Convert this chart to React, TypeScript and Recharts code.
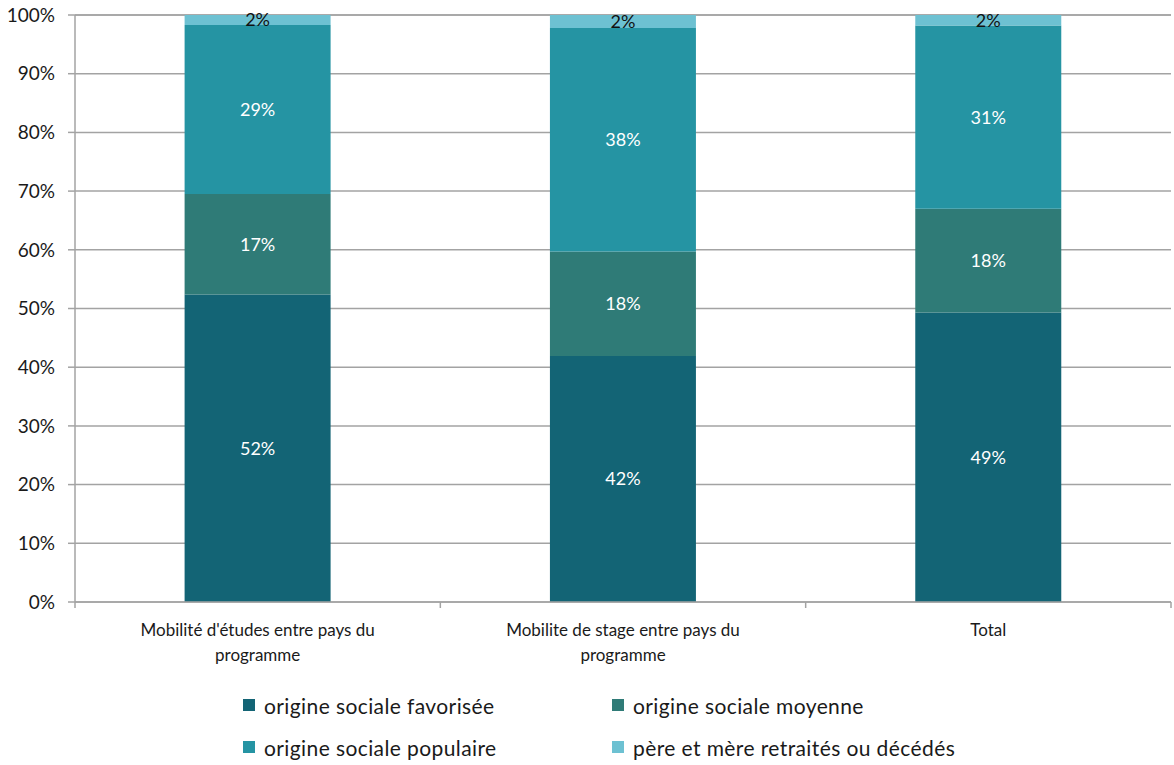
import React from 'react'
import { BarChart, Bar, XAxis, YAxis, CartesianGrid, LabelList } from 'recharts'

const categories = [
  "Mobilité d'études entre pays du\nprogramme",
  'Mobilite de stage entre pays du\nprogramme',
  'Total',
]
const favorisee = [52.4, 41.9, 49.3]
const moyenne = [17.1, 17.8, 17.7]
const populaire = [28.8, 38.1, 31.2]
const retraites = [1.7, 2.2, 1.8]
const yTicks = [0, 10, 20, 30, 40, 50, 60, 70, 80, 90, 100]

const series = [
  { key: 'favorisee', name: 'origine sociale favorisée', color: '#136475', label: '#ffffff' },
  { key: 'moyenne', name: 'origine sociale moyenne', color: '#2f7b77', label: '#ffffff' },
  { key: 'populaire', name: 'origine sociale populaire', color: '#2594a3', label: '#ffffff' },
  { key: 'retraites', name: 'père et mère retraités ou décédés', color: '#6dc1d2', label: '#111111' },
]

const data = categories.map((name, i) => ({
  name,
  favorisee: favorisee[i],
  moyenne: moyenne[i],
  populaire: populaire[i],
  retraites: retraites[i],
}))

const font = 'Lato, "Noto Sans", sans-serif'
const grid = '#a3a3a3'

// category label + Excel-style tick marks on the band edges
function CategoryTick({ x, y, payload, index, visibleTicksCount }: any) {
  const lines = String(payload.value).split('\n')
  const half = payload.offset || 0
  const last = index === visibleTicksCount - 1
  return (
    <g>
      <line x1={x - half} x2={x - half} y1={y} y2={y + 6} stroke={grid} strokeWidth={1.5} />
      {last && <line x1={x + half} x2={x + half} y1={y} y2={y + 6} stroke={grid} strokeWidth={1.5} />}
      <text x={x} y={y + 34} textAnchor="middle" fontFamily={font} fontSize={17} fill="#1a1a1a">
        {lines.map((l, i) => (
          <tspan key={i} x={x} dy={i === 0 ? 0 : 25}>
            {l}
          </tspan>
        ))}
      </text>
    </g>
  )
}

export default function App() {
  return (
    <div style={{ position: 'absolute', left: 0, top: 0, width: 1174, height: 765, background: '#fff' }}>
      <BarChart
        width={1174}
        height={680}
        data={data}
        margin={{ top: 15, right: 3, left: 0, bottom: 0 }}
        barCategoryGap="30%"
      >
        <CartesianGrid vertical={false} stroke={grid} strokeWidth={1.5} />
        <XAxis
          dataKey="name"
          tick={<CategoryTick />}
          tickLine={false}
          tickSize={0}
          tickMargin={0}
          axisLine={{ stroke: grid, strokeWidth: 1.5 }}
          height={78}
          interval={0}
        />
        <YAxis
          domain={[0, 100]}
          ticks={yTicks}
          tickFormatter={(v: number) => `${v}%`}
          width={75}
          tickSize={7}
          tickMargin={13}
          axisLine={{ stroke: grid, strokeWidth: 1.5 }}
          tickLine={{ stroke: grid, strokeWidth: 1.5 }}
          tick={{ fontFamily: font, fontSize: 19, fill: '#1a1a1a' }}
        />
        {series.map((s) => (
          <Bar
            key={s.key}
            dataKey={s.key}
            name={s.name}
            stackId="a"
            fill={s.color}
            isAnimationActive={false}
          >
            <LabelList
              dataKey={s.key}
              position="center"
              formatter={(v: any) => `${Math.round(Number(v))}%`}
              fill={s.label}
              style={{ fontFamily: font, fontSize: 18 }}
            />
          </Bar>
        ))}
      </BarChart>
      <div
        style={{
          position: 'absolute',
          left: 243,
          top: 691,
          display: 'grid',
          gridTemplateColumns: '369px auto',
          rowGap: 14,
          fontFamily: font,
          fontSize: 21,
          letterSpacing: 0.4,
          color: '#1a1a1a',
        }}
      >
        {series.map((s) => (
          <div key={s.key} style={{ display: 'flex', alignItems: 'center', height: 28 }}>
            <span style={{ width: 12, height: 12, background: s.color, marginRight: 9, display: 'inline-block' }} />
            <span>{s.name}</span>
          </div>
        ))}
      </div>
    </div>
  )
}
